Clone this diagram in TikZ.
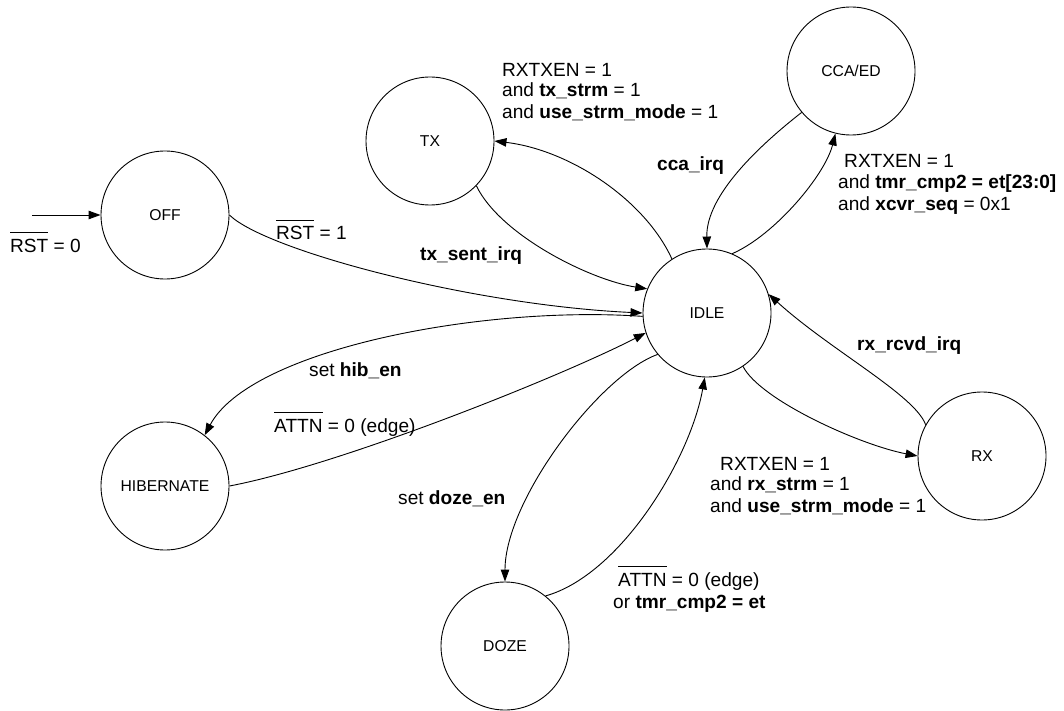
\documentclass[tikz,border=0pt]{standalone}
\usepackage{fontspec}
\setmainfont{Liberation Sans}
\usetikzlibrary{arrows.meta}
\newcommand\ovl[1]{\leavevmode\setbox0\hbox{#1}\rlap{\raisebox{\dimexpr\ht0+0.3em\relax}{\rule{\wd0}{0.055em}}}\box0\relax}
\begin{document}
\begin{tikzpicture}[x=1pt,y=-1pt,
  state/.style={circle,draw,line width=0.9pt,minimum size=128pt,inner sep=0pt,font=\fontsize{15.7}{18}\selectfont},
  lbl/.style={font=\fontsize{19.1}{21.5}\selectfont,inner sep=0pt,anchor=base west},
  tr/.style={line width=0.9pt,-{Triangle[length=12pt,width=8.5pt]}}]
\useasboundingbox (0,0) rectangle (1064,711);
% states
\node[state] (OFF) at (165,215) {OFF};
\node[state] (TX) at (430,141) {TX};
\node[state] (CCA) at (851,71) {CCA/ED};
\node[state] (IDLE) at (707,313) {IDLE};
\node[state] (RX) at (982,456) {RX};
\node[state] (HIB) at (165,486) {HIBERNATE};
\node[state] (DOZE) at (505,646) {DOZE};
\coordinate (init) at (32,215);
% transitions
\draw[tr] (init) -- (OFF.west);
\draw[tr] (OFF.east) .. controls (265,250) and (470,305) .. (IDLE.180);
\draw[tr] (TX.-44) .. controls (500,235) and (590,280) .. (IDLE.158);
\draw[tr] (IDLE.123) .. controls (645,200) and (570,150) .. (TX.0);
\draw[tr] (CCA.220) .. controls (760,145) and (706,195) .. (IDLE.90);
\draw[tr] (IDLE.67) .. controls (775,235) and (825,175) .. (CCA.256);
\draw[tr] (IDLE.-56) .. controls (760,400) and (860,445) .. (RX.180);
\draw[tr] (RX.151) .. controls (915,395) and (830,350) .. (IDLE.17);
\draw[tr] (IDLE.183) .. controls (480,305) and (250,350) .. (HIB.52);
\draw[tr] (HIB.0) .. controls (340,465) and (560,377) .. (IDLE.198);
\draw[tr] (IDLE.220) .. controls (600,375) and (505,500) .. (DOZE.90);
\draw[tr] (DOZE.51) .. controls (620,575) and (690,460) .. (IDLE.268);
% labels
\node[lbl] (lrst0) at (10,252) {\ovl{RST} = 0};
\node[lbl] (lrst1) at (276,240) {\ovl{RST} = 1};
\node[lbl] (ltxa) at (502,77) {RXTXEN = 1};
\node[lbl] (ltxb) at (502,97) {and \textbf{tx\_strm} = 1};
\node[lbl] (ltxc) at (502,119) {and \textbf{use\_strm\_mode} = 1};
\node[lbl] (lcca) at (657,171) {\textbf{cca\_irq}};
\node[lbl] (ltxs) at (420,260) {\textbf{tx\_sent\_irq}};
\node[lbl] (lccaa) at (844,168) {RXTXEN = 1};
\node[lbl] (lccab) at (838,189) {and \textbf{tmr\_cmp2 = et[23:0]}};
\node[lbl] (lccac) at (838,211) {and \textbf{xcvr\_seq} = 0x1};
\node[lbl] (lrxr) at (857,350) {\textbf{rx\_rcvd\_irq}};
\node[lbl] (lrxa) at (720,470) {RXTXEN = 1};
\node[lbl] (lrxb) at (710,490) {and \textbf{rx\_strm} = 1};
\node[lbl] (lrxc) at (710,512) {and \textbf{use\_strm\_mode} = 1};
\node[lbl] (lhib) at (309,376) {set \textbf{hib\_en}};
\node[lbl] (lattn) at (274,432) {\ovl{ATTN} = 0 (edge)};
\node[lbl] (ldoze) at (398,504) {set \textbf{doze\_en}};
\node[lbl] (lwakea) at (618,586) {\ovl{ATTN} = 0 (edge)};
\node[lbl] (lwakeb) at (613,608) {or \textbf{tmr\_cmp2 = et}};
\end{tikzpicture}
\end{document}
